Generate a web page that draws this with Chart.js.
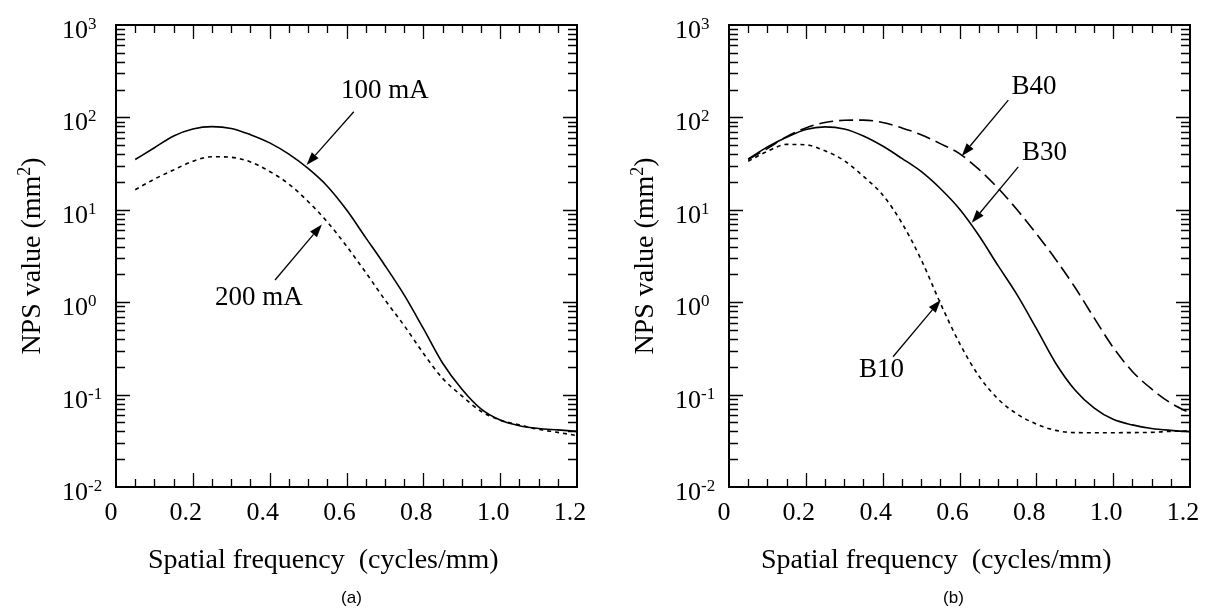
<!DOCTYPE html>
<html><head><meta charset="utf-8">
<script src="https://cdn.jsdelivr.net/npm/chart.js@4.4.1/dist/chart.umd.min.js"></script>
<style>
html,body{margin:0;padding:0;background:#fff;width:1205px;height:608px;overflow:hidden}
canvas{position:absolute;top:0;display:block}
</style></head><body>
<canvas id="ca" width="602" height="608" style="left:0"></canvas>
<canvas id="cb" width="603" height="608" style="left:602px"></canvas>
<script>
// ---- data ----
const freq = [0.05,0.10,0.15,0.20,0.25,0.30,0.35,0.40,0.45,0.50,0.55,0.60,0.65,0.70,0.75,0.80,0.85,0.90,0.95,1.00,1.05,1.10,1.15,1.20];
const nps100mA = [35,47,63,75,79.5,76,65,53,40,28,18,10,5.0,2.5,1.2,0.52,0.22,0.115,0.07,0.053,0.046,0.043,0.0415,0.040];
const nps200mA = [16.5,21.5,27,33.5,37.5,37,33,26,19,12.3,7.4,4.05,2.1,1.06,0.56,0.28,0.15,0.097,0.066,0.053,0.047,0.042,0.039,0.036];
const npsB10 = [33.5,43,51,50.5,43.5,34,23,14.5,7.2,2.9,0.98,0.36,0.16,0.09,0.0615,0.048,0.041,0.0388,0.0387,0.0387,0.0388,0.039,0.040,0.0405];
const npsB30 = [35.5,48,61,74,79,75,63,49,36,26,17,10.2,5.3,2.5,1.2,0.52,0.22,0.113,0.072,0.054,0.047,0.043,0.041,0.0397];
const npsB40 = [35,46,62,77,88,93,93.5,88,77,65,52,40.5,27.5,17.2,10,5.5,2.92,1.46,0.68,0.324,0.178,0.115,0.081,0.063];
const xTickValues = [0,0.2,0.4,0.6,0.8,1.0,1.2];
const xTickLabels = ['0','0.2','0.4','0.6','0.8','1.0','1.2'];
const yTickExponents = [-2,-1,0,1,2,3];
const xTitle = 'Spatial frequency  (cycles/mm)';
const yTitle = 'NPS value (mm';

const SERIF = '"Liberation Serif","Times New Roman",serif';
const pts = arr => freq.map((f,i)=>({x:f,y:arr[i]}));

function arrow(ctx,x1,y1,x2,y2){
  const a=Math.atan2(y2-y1,x2-x1), L=13, W=4.5;
  const bx=x2-L*Math.cos(a), by=y2-L*Math.sin(a);
  ctx.beginPath();ctx.moveTo(x1,y1);ctx.lineTo(bx,by);ctx.lineWidth=1.3;ctx.strokeStyle='#000';ctx.stroke();
  ctx.beginPath();ctx.moveTo(x2,y2);
  ctx.lineTo(bx+W*Math.sin(a),by-W*Math.cos(a));
  ctx.lineTo(bx-W*Math.sin(a),by+W*Math.cos(a));
  ctx.closePath();ctx.fillStyle='#000';ctx.fill();
}

function decorPlugin(cfg){
  return {id:'decor',afterDraw(chart){
    const ctx=chart.ctx, A=chart.chartArea, xs=chart.scales.x, ys=chart.scales.y;
    ctx.save();
    ctx.strokeStyle='#000';ctx.fillStyle='#000';
    ctx.lineWidth=1.3;
    for(let i=1;i<24;i++){
      const px=Math.round(xs.getPixelForValue(i*0.05))+0.5;
      const len=(i%4===0)?14:8;
      ctx.beginPath();
      ctx.moveTo(px,A.bottom);ctx.lineTo(px,A.bottom-len);
      ctx.moveTo(px,A.top);ctx.lineTo(px,A.top+len);
      ctx.stroke();
    }
    for(let k=-2;k<=2;k++){
      for(let m=1;m<=9;m++){
        if(k===-2&&m===1)continue;
        const py=Math.round(ys.getPixelForValue(m*Math.pow(10,k)))+0.5;
        const len=(m===1)?14:9;
        ctx.beginPath();
        ctx.moveTo(A.left,py);ctx.lineTo(A.left+len,py);
        ctx.moveTo(A.right,py);ctx.lineTo(A.right-len,py);
        ctx.stroke();
      }
    }
    ctx.lineWidth=2;
    ctx.strokeRect(A.left,A.top,A.right-A.left,A.bottom-A.top);
    ctx.font='26px '+SERIF;ctx.textAlign='center';ctx.textBaseline='alphabetic';
    xTickValues.forEach((v,i)=>{
      const px=xs.getPixelForValue(v);
      ctx.fillText(xTickLabels[i],px+(v===0?-5:-7),A.bottom+33);
    });
    yTickExponents.forEach(e=>{
      const py=ys.getPixelForValue(Math.pow(10,e));
      ctx.font='26px '+SERIF;ctx.textAlign='right';
      ctx.fillText('10',A.left-28,py+13);
      ctx.font='17px '+SERIF;ctx.textAlign='left';
      ctx.fillText(String(e),A.left-28,py+4);
    });
    ctx.font='28px '+SERIF;ctx.textAlign='left';
    ctx.fillText(xTitle,A.left+32,568);
    ctx.save();
    const cy=(A.top+A.bottom)/2;
    ctx.translate(A.left-76,cy);ctx.rotate(-Math.PI/2);
    ctx.font='28px '+SERIF;
    const w1=ctx.measureText(yTitle).width;
    ctx.font='18px '+SERIF;const w2=ctx.measureText('2').width;
    ctx.font='28px '+SERIF;const w3=ctx.measureText(')').width;
    const tot=w1+w2+w3; let sx=-tot/2;
    ctx.textAlign='left';
    ctx.fillText(yTitle,sx,0);
    ctx.font='18px '+SERIF;ctx.fillText('2',sx+w1,-10);
    ctx.font='28px '+SERIF;ctx.fillText(')',sx+w1+w2,0);
    ctx.restore();
    ctx.font='17px "Liberation Sans",Arial,sans-serif';ctx.textAlign='center';ctx.textBaseline='middle';
    ctx.fillText(cfg.panel,(A.left+A.right)/2+cfg.panelDx,598);
    cfg.notes.forEach(n=>{
      ctx.font='27px '+SERIF;ctx.textAlign='center';ctx.textBaseline='middle';
      ctx.fillText(n.text,xs.getPixelForValue(n.tx),ys.getPixelForValue(n.ty));
      arrow(ctx,xs.getPixelForValue(n.ax),ys.getPixelForValue(n.ay),xs.getPixelForValue(n.hx),ys.getPixelForValue(n.hy));
    });
    ctx.restore();
  }};
}

function makeChart(id,datasets,pad,cfg){
  return new Chart(document.getElementById(id),{
    type:'line',
    data:{datasets},
    options:{
      responsive:false,animation:false,
      layout:{padding:pad},
      plugins:{legend:{display:false},tooltip:{enabled:false}},
      elements:{point:{radius:0},line:{cubicInterpolationMode:'monotone',borderWidth:1.6,borderColor:'#000',fill:false}},
      scales:{
        x:{type:'linear',min:0,max:1.2,display:false},
        y:{type:'logarithmic',min:0.01,max:1000,display:false}
      }
    },
    plugins:[decorPlugin(cfg)]
  });
}

makeChart('ca',[
  {label:'100 mA',data:pts(nps100mA),borderColor:'#000'},
  {label:'200 mA',data:pts(nps200mA),borderColor:'#000',borderDash:[4,4]}
],{left:116,right:25,top:25,bottom:121},{
  panel:'(a)',panelDx:5,
  notes:[
    {text:'100 mA',tx:0.70,ty:193,ax:0.619,ay:115,hx:0.496,hy:30.5},
    {text:'200 mA',tx:0.372,ty:1.11,ax:0.414,ay:1.74,hx:0.536,hy:6.93}
  ]
});

makeChart('cb',[
  {label:'B30',data:pts(npsB30),borderColor:'#000'},
  {label:'B40',data:pts(npsB40),borderColor:'#000',borderDash:[14,6]},
  {label:'B10',data:pts(npsB10),borderColor:'#000',borderDash:[4,4]}
],{left:127,right:15,top:25,bottom:121},{
  panel:'(b)',panelDx:-6,
  notes:[
    {text:'B40',tx:0.794,ty:213,ax:0.727,ay:154,hx:0.606,hy:38.2},
    {text:'B30',tx:0.821,ty:41.7,ax:0.753,ay:29.2,hx:0.632,hy:7.24},
    {text:'B10',tx:0.397,ty:0.183,ax:0.427,ay:0.257,hx:0.551,hy:1.057}
  ]
});
</script>
</body></html>
